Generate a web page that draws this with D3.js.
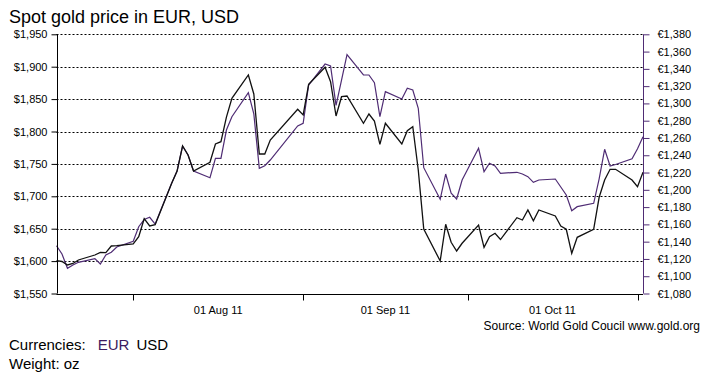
<!DOCTYPE html>
<html>
<head>
<meta charset="utf-8">
<script src="https://cdn.jsdelivr.net/npm/d3@7"></script>
<style>
  html, body { margin: 0; padding: 0; background: #fff; }
  svg { display: block; font-family: "Liberation Sans", Arial, sans-serif; }
</style>
</head>
<body>
<svg id="chart" width="710" height="380"></svg>
<script>
// ---- Data ----
const dates = [
  "2011-07-18","2011-07-19","2011-07-20","2011-07-21","2011-07-22",
  "2011-07-25","2011-07-26","2011-07-27","2011-07-28","2011-07-29",
  "2011-08-01","2011-08-02","2011-08-03","2011-08-04","2011-08-05",
  "2011-08-08","2011-08-09","2011-08-10","2011-08-11","2011-08-12",
  "2011-08-15","2011-08-16","2011-08-17","2011-08-18","2011-08-19",
  "2011-08-22","2011-08-23","2011-08-24","2011-08-25","2011-08-26",
  "2011-08-31","2011-09-01","2011-09-02",
  "2011-09-05","2011-09-06","2011-09-07","2011-09-08","2011-09-09",
  "2011-09-12","2011-09-13","2011-09-14","2011-09-15","2011-09-16",
  "2011-09-19","2011-09-20","2011-09-21","2011-09-22","2011-09-23",
  "2011-09-26","2011-09-27","2011-09-28","2011-09-29","2011-09-30",
  "2011-10-03","2011-10-04","2011-10-05","2011-10-06","2011-10-07",
  "2011-10-10","2011-10-11","2011-10-12","2011-10-13","2011-10-14",
  "2011-10-17","2011-10-18","2011-10-19","2011-10-20","2011-10-21",
  "2011-10-24","2011-10-25","2011-10-26","2011-10-27","2011-10-28",
  "2011-10-31","2011-11-01","2011-11-02"
];
const usd = [
  1600.6,1599.4,1594.0,1596.3,1601.7,
  1609.4,1613.3,1613.0,1623.3,1623.8,
  1626.4,1637.7,1665.4,1654.2,1656.2,
  1719.9,1739.0,1777.6,1763.7,1739.0,
  1752.5,1780.7,1784.3,1822.1,1851.2,
  1887.2,1857.9,1765.3,1765.3,1786.9,
  1834.3,1825.5,1872.8,
  1899.1,1876.9,1823.9,1853.7,1854.8,
  1812.7,1827.0,1816.2,1780.2,1812.7,
  1780.7,1801.2,1807.4,1740.6,1649.5,
  1600.2,1656.8,1629.0,1615.6,1627.5,
  1655.7,1621.3,1637.7,1642.9,1633.3,
  1667.0,1663.4,1678.9,1662.3,1678.9,
  1669.6,1654.2,1649.1,1612.0,1636.7,
  1649.1,1698.5,1725.2,1741.7,1741.7,
  1725.2,1714.8,1737.0
];
const eur = [
  1135.3,1125.7,1109.2,1113.0,1116.1,
  1120.3,1114.1,1124.6,1127.7,1133.8,
  1140.4,1157.3,1165.6,1168.2,1160.4,
  1207.7,1221.8,1250.7,1240.3,1221.8,
  1214.0,1236.5,1236.5,1269.2,1284.6,
  1312.4,1287.8,1224.9,1227.9,1234.5,
  1273.9,1277.0,1321.3,
  1345.6,1343.3,1297.8,1327.1,1356.4,
  1332.9,1332.9,1324.0,1284.6,1313.6,
  1305.1,1317.5,1315.5,1294.4,1225.6,
  1189.0,1218.3,1196.0,1189.4,1211.4,
  1248.1,1221.0,1230.7,1227.6,1219.1,
  1220.3,1218.3,1215.2,1208.7,1211.4,
  1212.5,1203.3,1194.0,1175.8,1180.5,
  1184.4,1212.8,1246.9,1227.6,1229.3,
  1236.0,1247.6,1261.5
];
const usdTicks = [1550,1600,1650,1700,1750,1800,1850,1900,1950];
const eurTicks = [1080,1100,1120,1140,1160,1180,1200,1220,1240,1260,1280,1300,1320,1340,1360,1380];
const monthTicks = ["2011-08-01","2011-09-01","2011-10-01","2011-11-01"];
const monthLabels = ["01 Aug 11","01 Sep 11","01 Oct 11"];
const xDomain = ["2011-07-18","2011-11-02"];

// ---- Layout ----
const parse = d3.utcParse("%Y-%m-%d");
const L = 56.5, R = 643, T = 34.3, B = 293.5;
const purple = "#4f2c74";

const svg = d3.select("#chart");

const x = d3.scaleUtc().domain(xDomain.map(parse)).range([L, R]);
const yU = d3.scaleLinear().domain([1550, 1950]).range([B, T]);
const yE = d3.scaleLinear().domain([1080, 1380]).range([B, T]);

// Title
svg.append("text").attr("x", 9).attr("y", 23)
  .attr("font-size", 18).attr("fill", "#000")
  .text("Spot gold price in EUR, USD");

// Gridlines
svg.append("g").selectAll("line").data(usdTicks.slice(1)).join("line")
  .attr("x1", L).attr("x2", R)
  .attr("y1", d => Math.round(yU(d)) + 0.5).attr("y2", d => Math.round(yU(d)) + 0.5)
  .attr("stroke", "#000").attr("stroke-width", 1).attr("stroke-dasharray", "2,2");

// Lines
const rows = dates.map((d, i) => ({ date: parse(d), usd: usd[i], eur: eur[i] }));
svg.append("path").datum(rows)
  .attr("fill", "none").attr("stroke", purple).attr("stroke-width", 1.2)
  .attr("stroke-linejoin", "miter")
  .attr("d", d3.line().x(d => x(d.date)).y(d => yE(d.eur)));
svg.append("path").datum(rows)
  .attr("fill", "none").attr("stroke", "#111").attr("stroke-width", 1.3)
  .attr("stroke-linejoin", "miter")
  .attr("d", d3.line().x(d => x(d.date)).y(d => yU(d.usd)));

// Left axis (USD)
const fmtU = v => "$" + d3.format(",")(v);
const leftAxis = d3.axisLeft(yU).tickValues(usdTicks).tickFormat(fmtU).tickSize(6).tickPadding(4);
const gL = svg.append("g").attr("transform", `translate(${Math.round(L) + 0.5},0)`).call(leftAxis);
gL.select(".domain").attr("stroke", "#000").attr("d", `M-0,${T}V${B}`);
gL.selectAll(".tick line").attr("stroke", "#000");
gL.selectAll(".tick text").attr("font-size", 11).attr("fill", "#000")
  .attr("font-family", "'Liberation Sans', Arial, sans-serif");

// Right axis (EUR)
const fmtE = v => "€" + d3.format(",")(v);
const rightAxis = d3.axisRight(yE).tickValues(eurTicks).tickFormat(fmtE).tickSize(6).tickPadding(8);
const gR = svg.append("g").attr("transform", `translate(${Math.round(R) + 0.5},0)`).call(rightAxis);
gR.select(".domain").attr("stroke", purple).attr("d", `M0,${T}V${B}`);
gR.selectAll(".tick line").attr("stroke", purple);
gR.selectAll(".tick text").attr("font-size", 11).attr("fill", "#000")
  .attr("font-family", "'Liberation Sans', Arial, sans-serif");

// Bottom axis
const gB = svg.append("g").attr("transform", `translate(0,${Math.round(B) + 0.5})`);
gB.append("line").attr("x1", L).attr("x2", R).attr("stroke", "#000");
const mt = monthTicks.map(parse);
gB.selectAll("line.tk").data(mt).join("line").attr("class", "tk")
  .attr("x1", d => Math.round(x(d)) + 0.5).attr("x2", d => Math.round(x(d)) + 0.5)
  .attr("y1", 0).attr("y2", 6).attr("stroke", "#000");
gB.selectAll("text").data(monthLabels).join("text")
  .attr("x", (d, i) => (x(mt[i]) + x(mt[i + 1])) / 2)
  .attr("y", 19).attr("text-anchor", "middle")
  .attr("font-size", 11).attr("fill", "#000")
  .text(d => d);

// Source
svg.append("text").attr("x", 700).attr("y", 330).attr("text-anchor", "end")
  .attr("font-size", 12).attr("fill", "#000")
  .text("Source: World Gold Coucil www.gold.org");

// Legend / notes
const leg = svg.append("text").attr("x", 9).attr("y", 350).attr("font-size", 15).attr("fill", "#000");
leg.append("tspan").text("Currencies:");
leg.append("tspan").attr("dx", 12).attr("fill", "#3c1a60").text("EUR");
leg.append("tspan").attr("dx", 7).attr("fill", "#000").text("USD");
svg.append("text").attr("x", 9).attr("y", 369).attr("font-size", 15).attr("fill", "#000")
  .text("Weight: oz");
</script>
</body>
</html>
